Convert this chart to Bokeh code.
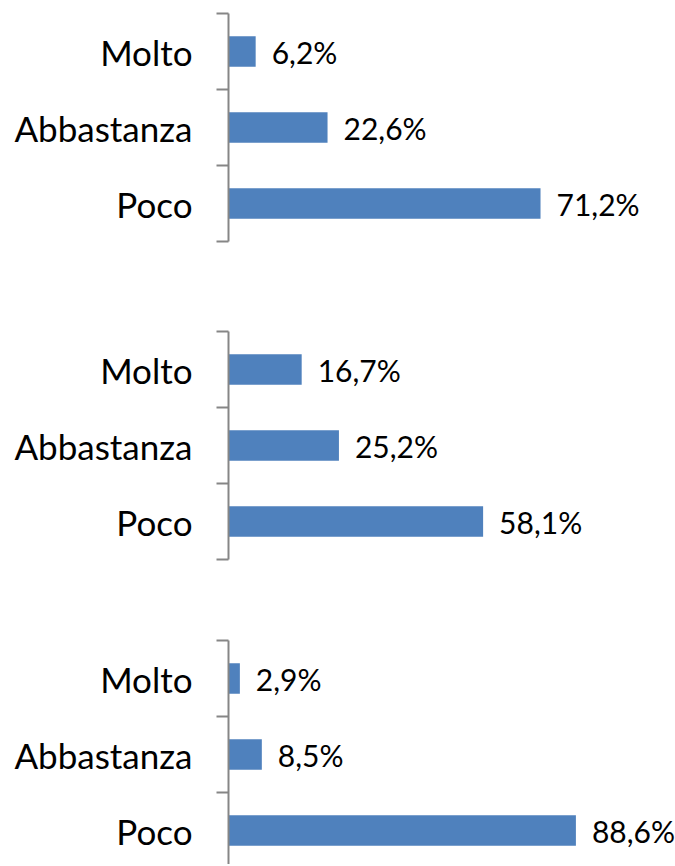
from bokeh.plotting import figure
from bokeh.layouts import column
from bokeh.models import FixedTicker, LinearAxis, Range1d, ColumnDataSource
from bokeh.core.properties import value
from bokeh.embed import file_html
from bokeh.resources import INLINE

categories = ["Molto", "Abbastanza", "Poco"]
panel1_values = [6.2, 22.6, 71.2]
panel2_values = [16.7, 25.2, 58.1]
panel3_values = [2.9, 8.5, 88.6]
panel_x_max = [102, 102, 114]

FONT = "Lato"
BAR = "#4F81BD"
AXIS = "#868686"

n = len(categories)
ypos = [n - i for i in range(n)]  # Molto at top


def make_panel(vals, xmax, height, top, bottom, ystart):
    src = ColumnDataSource(dict(
        y=ypos, v=vals,
        lab=[f"{v:.1f}%".replace(".", ",") for v in vals],
    ))
    p = figure(width=675, height=height, output_backend="svg", toolbar_location=None,
               x_range=Range1d(0, xmax), y_range=Range1d(ystart, n + 0.5),
               min_border_left=228, min_border_right=0,
               min_border_top=top, min_border_bottom=bottom,
               x_axis_location=None, y_axis_location=None)
    p.outline_line_color = None
    p.xgrid.visible = False
    p.ygrid.visible = False
    p.hbar(y="y", height=0.4, left=0, right="v", source=src,
           fill_color=BAR, line_color=None)
    p.text(x="v", y="y", text="lab", source=src, x_offset=16,
           text_baseline="middle", text_align="left",
           text_font=value(FONT), text_font_size="30px", text_color="black")
    ax = LinearAxis(
        ticker=FixedTicker(ticks=ypos, minor_ticks=[i + 0.5 for i in range(n + 1)]),
        major_label_overrides={y: c for y, c in zip(ypos, categories)},
        axis_line_color=AXIS, axis_line_width=2,
        major_tick_line_color=None, major_tick_out=0, major_tick_in=0,
        minor_tick_line_color=AXIS, minor_tick_line_width=2,
        minor_tick_out=12, minor_tick_in=0,
        major_label_standoff=24,
        major_label_text_font=FONT, major_label_text_font_size="35px",
        major_label_text_color="black",
    )
    p.add_layout(ax, "left")
    return p


p1 = make_panel(panel1_values, panel_x_max[0], 286, 13, 45, 0.5)
p2 = make_panel(panel2_values, panel_x_max[1], 313, 45, 40, 0.5)
p3 = make_panel(panel3_values, panel_x_max[2], 265, 41, 0, n + 0.5 - 224 / 76)

layout = column(p1, p2, p3, spacing=0)
open("out.html", "w").write(file_html(layout, INLINE))
